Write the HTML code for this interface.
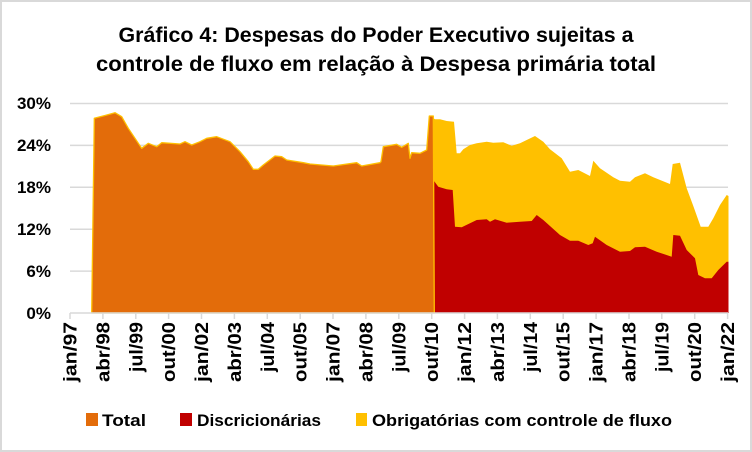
<!DOCTYPE html>
<html><head><meta charset="utf-8"><style>
body{margin:0;background:#fff}
svg{display:block;font-family:"Liberation Sans",sans-serif;font-weight:bold}
</style></head><body>
<svg width="752" height="452" viewBox="0 0 752 452">
<rect x="1" y="1" width="750" height="450" fill="#fff" stroke="#d9d9d9" stroke-width="2"/>
<text x="376" y="42" font-size="21" text-anchor="middle" textLength="515" lengthAdjust="spacingAndGlyphs">Gráfico 4: Despesas do Poder Executivo sujeitas a</text>
<text x="376" y="71" font-size="21" text-anchor="middle" textLength="560" lengthAdjust="spacingAndGlyphs">controle de fluxo em relação à Despesa primária total</text>
<g stroke="#d9d9d9" stroke-width="1.5">
<line x1="70" x2="728" y1="103.5" y2="103.5"/><line x1="70" x2="728" y1="145.4" y2="145.4"/>
<line x1="70" x2="728" y1="187.3" y2="187.3"/><line x1="70" x2="728" y1="229.2" y2="229.2"/>
<line x1="70" x2="728" y1="271.1" y2="271.1"/>
</g>
<polygon fill="#ffc000" points="430,116 435,119.3 440,119.3 446.7,121 454,121.7 456.7,153.3 460,153.3 463.3,149.3 470,145 476.7,143.3 486.7,141.7 493.3,142.7 503.3,142.3 511.7,145.7 520,143.3 526.7,140 535,136 543.3,141.7 550,149.3 561.7,158.3 570,171.7 578.3,170 590,176 593.3,160.7 600,168.3 613.3,177.3 620,180.7 630,181.7 635,177.3 645,173.3 653.3,177.3 670,184 672.7,164 680,162.7 686.7,188.3 693.3,206 700.7,226.7 708.3,226.7 713.3,218.3 720,205 726.7,195 728.5,196 728.5,313 434,313"/>
<polygon fill="#c00000" points="433.3,180 438.3,186.7 446.7,189.3 452.7,190 455,226.7 461.7,227.3 476.7,220 486.7,219.3 490,221.7 495,219.3 506.7,222.7 520,221.7 531.7,221 536.7,215 543.3,220 560,235 570,240.7 578.3,240.7 588.3,245 592.7,243.3 595,236.7 606.7,245 620,251.7 630,251 635,247.3 645,246.7 656.7,251.7 671.7,256.7 673.3,235 680,235.7 686.7,250 695,258.3 698.3,275 705,278.3 711.7,278.3 718.3,270 726.7,261.7 728.5,261.7 728.5,313 434,313"/>
<polygon fill="#e36c0a" stroke="#ffc000" stroke-width="1.3" stroke-linejoin="round" points="91.7,313 94.3,118.3 105,115.5 115,112.7 121.7,116.7 128.3,128.3 135,138.3 141.7,148.3 148.3,143.3 156.7,146.7 161.7,142.7 180,144 185,141.7 191.7,145 200,141.7 206.7,138.3 216.7,136.7 230,141.7 240,151.7 248.3,161.7 253.3,169.3 258.3,169.3 263.3,165 275,156 281.7,156.7 286.7,160 303.3,162.7 310,164 333.3,166 356.7,162.7 361.7,166 380,162.7 381,161.7 383.3,146.7 396.7,144.3 401.7,147.3 408.3,143.3 410,158.3 411.7,152.7 420,153.3 426.7,150 429.3,116 433.3,116 434.3,313"/>
<line x1="70" x2="728" y1="313" y2="313" stroke="#d9d9d9" stroke-width="1.5"/>
<g stroke="#d9d9d9" stroke-width="1.5">
<line x1="70" x2="70" y1="313" y2="319"/><line x1="102.9" x2="102.9" y1="313" y2="319"/><line x1="135.8" x2="135.8" y1="313" y2="319"/><line x1="168.6" x2="168.6" y1="313" y2="319"/><line x1="201.5" x2="201.5" y1="313" y2="319"/><line x1="234.4" x2="234.4" y1="313" y2="319"/><line x1="267.3" x2="267.3" y1="313" y2="319"/><line x1="300.2" x2="300.2" y1="313" y2="319"/><line x1="333" x2="333" y1="313" y2="319"/><line x1="365.9" x2="365.9" y1="313" y2="319"/><line x1="398.8" x2="398.8" y1="313" y2="319"/><line x1="431.7" x2="431.7" y1="313" y2="319"/><line x1="464.6" x2="464.6" y1="313" y2="319"/><line x1="497.4" x2="497.4" y1="313" y2="319"/><line x1="530.3" x2="530.3" y1="313" y2="319"/><line x1="563.2" x2="563.2" y1="313" y2="319"/><line x1="596.1" x2="596.1" y1="313" y2="319"/><line x1="629" x2="629" y1="313" y2="319"/><line x1="661.8" x2="661.8" y1="313" y2="319"/><line x1="694.7" x2="694.7" y1="313" y2="319"/><line x1="727.6" x2="727.6" y1="313" y2="319"/>
</g>
<g font-size="17" text-anchor="end">
<text x="51" y="109">30%</text><text x="51" y="151">24%</text><text x="51" y="193">18%</text>
<text x="51" y="235">12%</text><text x="51" y="277">6%</text><text x="51" y="319">0%</text>
</g>
<g font-size="18" text-anchor="end" lengthAdjust="spacingAndGlyphs">
<text transform="translate(76.5,322) rotate(-90)" textLength="60" lengthAdjust="spacingAndGlyphs">jan/97</text>
<text transform="translate(109.4,322) rotate(-90)" textLength="60" lengthAdjust="spacingAndGlyphs">abr/98</text>
<text transform="translate(142.3,322) rotate(-90)" textLength="50" lengthAdjust="spacingAndGlyphs">jul/99</text>
<text transform="translate(175.1,322) rotate(-90)" textLength="60" lengthAdjust="spacingAndGlyphs">out/00</text>
<text transform="translate(208,322) rotate(-90)" textLength="60" lengthAdjust="spacingAndGlyphs">jan/02</text>
<text transform="translate(240.9,322) rotate(-90)" textLength="60" lengthAdjust="spacingAndGlyphs">abr/03</text>
<text transform="translate(273.8,322) rotate(-90)" textLength="50" lengthAdjust="spacingAndGlyphs">jul/04</text>
<text transform="translate(306.7,322) rotate(-90)" textLength="60" lengthAdjust="spacingAndGlyphs">out/05</text>
<text transform="translate(339.5,322) rotate(-90)" textLength="60" lengthAdjust="spacingAndGlyphs">jan/07</text>
<text transform="translate(372.4,322) rotate(-90)" textLength="60" lengthAdjust="spacingAndGlyphs">abr/08</text>
<text transform="translate(405.3,322) rotate(-90)" textLength="50" lengthAdjust="spacingAndGlyphs">jul/09</text>
<text transform="translate(438.2,322) rotate(-90)" textLength="60" lengthAdjust="spacingAndGlyphs">out/10</text>
<text transform="translate(471.1,322) rotate(-90)" textLength="60" lengthAdjust="spacingAndGlyphs">jan/12</text>
<text transform="translate(503.9,322) rotate(-90)" textLength="60" lengthAdjust="spacingAndGlyphs">abr/13</text>
<text transform="translate(536.8,322) rotate(-90)" textLength="50" lengthAdjust="spacingAndGlyphs">jul/14</text>
<text transform="translate(569.7,322) rotate(-90)" textLength="60" lengthAdjust="spacingAndGlyphs">out/15</text>
<text transform="translate(602.6,322) rotate(-90)" textLength="60" lengthAdjust="spacingAndGlyphs">jan/17</text>
<text transform="translate(635.5,322) rotate(-90)" textLength="60" lengthAdjust="spacingAndGlyphs">abr/18</text>
<text transform="translate(668.3,322) rotate(-90)" textLength="50" lengthAdjust="spacingAndGlyphs">jul/19</text>
<text transform="translate(701.2,322) rotate(-90)" textLength="60" lengthAdjust="spacingAndGlyphs">out/20</text>
<text transform="translate(734.1,322) rotate(-90)" textLength="60" lengthAdjust="spacingAndGlyphs">jan/22</text>
</g>
<g font-size="16.5">
<rect x="86" y="413" width="12" height="13" fill="#e36c0a"/>
<text x="102" y="426" textLength="44" lengthAdjust="spacingAndGlyphs">Total</text>
<rect x="180" y="413" width="12" height="13" fill="#c00000"/>
<text x="197" y="426" textLength="124" lengthAdjust="spacingAndGlyphs">Discricionárias</text>
<rect x="356" y="413" width="11" height="13" fill="#ffc000"/>
<text x="372" y="426" textLength="300" lengthAdjust="spacingAndGlyphs">Obrigatórias com controle de fluxo</text>
</g>
</svg>
</body></html>
